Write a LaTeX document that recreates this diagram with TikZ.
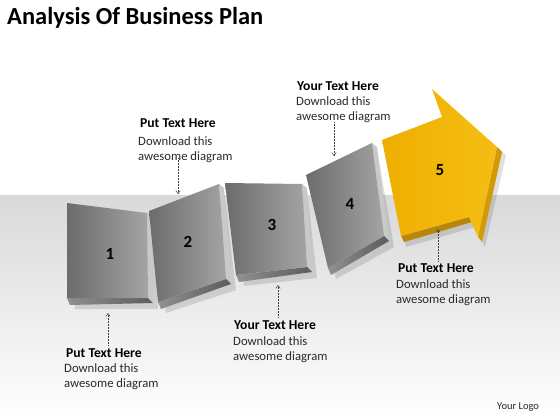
\documentclass[tikz,border=0pt]{standalone}
\usepackage{fontspec}
\setmainfont{Carlito}
\usetikzlibrary{arrows.meta,calc}
\definecolor{facedark}{HTML}{6C6C6C}
\definecolor{facelight}{HTML}{A4A4A4}
\definecolor{sidegray}{HTML}{C9C9C9}
\definecolor{botlight}{HTML}{909090}
\definecolor{botdark}{HTML}{5C5C5C}
\definecolor{ylwA}{HTML}{EFAE00}
\definecolor{ylwB}{HTML}{F5BE14}
\definecolor{ylwside}{HTML}{D29A06}
\definecolor{ylwbot}{HTML}{B8860B}
\definecolor{txt}{HTML}{2A2A2A}
\begin{document}
\begin{tikzpicture}[x=1pt,y=-1pt,
  face/.style={left color=facedark,right color=facelight},
  sideface/.style={fill=sidegray},
  bottomface/.style={left color=botlight,right color=botdark},
  shadowface/.style={fill=black,opacity=0.12},
  num/.style={font=\fontsize{17}{17}\selectfont\bfseries,text=black,inner sep=0pt},
  headtxt/.style={font=\fontsize{13.6}{15}\selectfont\bfseries,text=black,anchor=base west,inner sep=0pt},
  bodytxt/.style={font=\fontsize{12.7}{15}\selectfont,text=txt,anchor=base west,inner sep=0pt},
  ptr/.style={densely dotted,line width=0.5pt,draw=black!75,-{Straight Barb[length=3pt,width=4.5pt]}}]

\useasboundingbox (0,0) rectangle (560,420);
\fill[white] (0,0) rectangle (560,420);
\shade[top color=gray!30,bottom color=white] (0,195) rectangle (560,420);

% title
\node[anchor=base west,inner sep=0pt,font=\fontsize{24.5}{26}\selectfont\bfseries] (title) at (7,25) {Analysis Of Business Plan};

% panels coordinates
\foreach \n/\a/\b/\c/\d in {1/{67,203}/{147,213}/{148,298}/{67,298},
                            2/{149,211}/{219,184}/{226,279}/{158,302},
                            3/{225,183}/{302,184}/{307,267}/{236,275},
                            4/{306,175}/{372,143}/{384,236}/{328,268}}{
  \coordinate (p\n tl) at (\a);
  \coordinate (p\n tr) at (\b);
  \coordinate (p\n br) at (\c);
  \coordinate (p\n bl) at (\d);
}

% shadows
\foreach \n in {1,2,3,4}{
  \fill[shadowface] ($(p\n tl)+(4,6)$) -- ($(p\n tr)+(5,6)$) -- ($(p\n br)+(10,11)$) -- ($(p\n bl)+(8,11)$) -- cycle;
}

% panels
\foreach \n in {1,2,3,4}{
  \path[sideface] (p\n tr) -- ($(p\n tr)+(5,4)$) -- ($(p\n br)+(5,5)$) -- (p\n br) -- cycle;
  \path[bottomface] (p\n bl) -- (p\n br) -- ($(p\n br)+(5,5)$) -- ($(p\n bl)+(3,7)$) -- cycle;
  \path[face] (p\n tl) -- (p\n tr) -- (p\n br) -- (p\n bl) -- cycle;
}

% arrow 5
\coordinate (aA) at (382,140);
\coordinate (aB) at (442,117);
\coordinate (aC) at (432,89);
\coordinate (aD) at (497,147);
\coordinate (aE) at (478,237);
\coordinate (aF) at (469,217);
\coordinate (aG) at (401,236);
\fill[shadowface] ($(aA)+(4,6)$) -- ($(aB)+(4,6)$) -- ($(aC)+(4,6)$) -- ($(aD)+(9,8)$) -- ($(aE)+(7,10)$) -- ($(aF)+(6,10)$) -- ($(aG)+(5,11)$) -- cycle;
\fill[ylwside] (aD) -- ($(aD)+(5,5)$) -- ($(aE)+(4,5)$) -- (aE) -- cycle;
\fill[ylwbot] (aG) -- (aF) -- ($(aF)+(3,5)$) -- ($(aG)+(3,6)$) -- cycle;
\path[left color=ylwA,right color=ylwB] (aA) -- (aB) -- (aC) -- (aD) -- (aE) -- (aF) -- (aG) -- cycle;

% numbers
\node[num] (n1) at (110,254) {1};
\node[num] (n2) at (188,242) {2};
\node[num] (n3) at (272,225) {3};
\node[num] (n4) at (350,204) {4};
\node[num] (n5) at (440,170) {5};

% text blocks
\node[headtxt] (h1) at (66,357) {Put Text Here};
\node[bodytxt] (d1) at (64,372) {Download this};
\node[bodytxt] (e1) at (64,387) {awesome diagram};

\node[headtxt] (h2) at (140,128) {Put Text Here};
\node[bodytxt] (d2) at (138,145) {Download this};
\node[bodytxt] (e2) at (138,160) {awesome diagram};

\node[headtxt] (h3) at (234,329) {Your Text Here};
\node[bodytxt] (d3) at (233,345) {Download this};
\node[bodytxt] (e3) at (233,360) {awesome diagram};

\node[headtxt] (h4) at (297,91) {Your Text Here};
\node[bodytxt] (d4) at (296,106) {Download this};
\node[bodytxt] (e4) at (296,121) {awesome diagram};

\node[headtxt] (h5) at (398,272) {Put Text Here};
\node[bodytxt] (d5) at (396,288) {Download this};
\node[bodytxt] (e5) at (396,303) {awesome diagram};

\node[anchor=base west,inner sep=0pt,font=\fontsize{10.5}{12}\selectfont,text=txt] (logo) at (497,409) {Your Logo};

% pointers
\coordinate (s1) at (108,345); \coordinate (t1) at (108,313);
\coordinate (s2) at (178,158); \coordinate (t2) at (178,194);
\coordinate (s3) at (278,317); \coordinate (t3) at (278,285);
\coordinate (s4) at (334,122); \coordinate (t4) at (334,156);
\coordinate (s5) at (438,261); \coordinate (t5) at (438,229);
\foreach \i in {1,...,5}{\draw[ptr] (s\i) -- (t\i);}
\end{tikzpicture}
\end{document}
